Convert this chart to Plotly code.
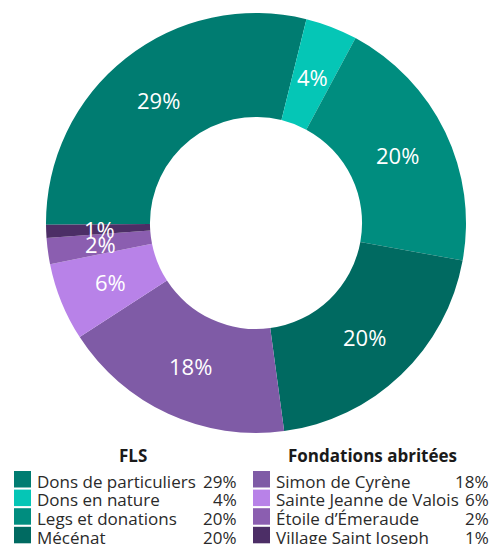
import math
import plotly.graph_objects as go

# ---- data ----
labels = ["Dons de particuliers", "Dons en nature", "Legs et donations", "Mécénat",
          "Simon de Cyrène", "Sainte Jeanne de Valois", "Étoile d’Émeraude", "Village Saint Joseph"]
values = [29, 4, 20, 20, 18, 6, 2, 1]
colors = ["#007C71", "#05C6B6", "#008D7F", "#006A61",
          "#7F5BA6", "#B882E8", "#8B5EB0", "#4C2E66"]
group_titles = ["FLS", "Fondations abritées"]
group_members = [labels[:4], labels[4:]]

W, H = 492, 544
FONT = "Open Sans"
ROT = -90.5

def px(x):
    return x / W

def py(y):
    return 1 - y / H

# pie geometry (page pixels)
CX, CY, R_OUT = 256, 223, 210
HOLE = 0.505
R_LAB = 157

fig = go.Figure()
fig.add_trace(go.Pie(
    labels=labels, values=values, sort=False, direction="clockwise",
    rotation=ROT, hole=HOLE,
    marker=dict(colors=colors, line=dict(width=0)),
    textinfo="none",
    domain=dict(x=[px(CX - R_OUT), px(CX + R_OUT)], y=[py(CY + R_OUT), py(CY - R_OUT)]),
    showlegend=False, hoverinfo="label+percent",
))

annotations = []
# slice labels at the middle of the ring, computed from the values
total = sum(values)
cum = 0
for v in values:
    mid = math.radians(ROT + 360 * (cum + v / 2) / total)
    cum += v
    lx = CX + R_LAB * math.sin(mid)
    ly = CY - R_LAB * math.cos(mid)
    annotations.append(dict(x=px(lx), y=py(ly), xref="paper", yref="paper",
                            text=f"{v}%", showarrow=False, xanchor="center", yanchor="middle",
                            font=dict(size=22, color="white", family=FONT)))

shapes = []
col_sq_x = [14, 253]
col_text_x = [35, 274]
col_pct_x = [239, 491]
title_x = [133, 372]
row0 = 471
pitch = 18.6
sq_h = 16.5
for g, (title, members) in enumerate(zip(group_titles, group_members)):
    annotations.append(dict(x=px(title_x[g]), y=py(455), xref="paper", yref="paper",
                            text=f"<b>{title}</b>", showarrow=False, xanchor="center",
                            yanchor="middle", font=dict(size=17, color="#1a1a1a", family=FONT)))
    for i, name in enumerate(members):
        idx = labels.index(name)
        top = row0 + i * pitch
        shapes.append(dict(type="rect", xref="paper", yref="paper",
                           x0=px(col_sq_x[g]), x1=px(col_sq_x[g] + 17),
                           y0=py(top + sq_h), y1=py(top),
                           fillcolor=colors[idx], line=dict(width=0)))
        cy = top + sq_h / 2 + 2
        annotations.append(dict(x=px(col_text_x[g]), y=py(cy), xref="paper", yref="paper",
                                text=name, showarrow=False, xanchor="left", yanchor="middle",
                                font=dict(size=17, color="#2a2a2a", family=FONT)))
        annotations.append(dict(x=px(col_pct_x[g]), y=py(cy), xref="paper", yref="paper",
                                text=f"{values[idx]}%", showarrow=False, xanchor="right",
                                yanchor="middle",
                                font=dict(size=17, color="#2a2a2a", family=FONT)))

fig.update_layout(
    width=W, height=H, margin=dict(l=0, r=0, t=0, b=0),
    paper_bgcolor="white", plot_bgcolor="white",
    shapes=shapes, annotations=annotations,
)
fig.write_html("out.html", config={"displayModeBar": False},
               post_script="document.body.style.margin='0';document.body.style.overflow='hidden';")
